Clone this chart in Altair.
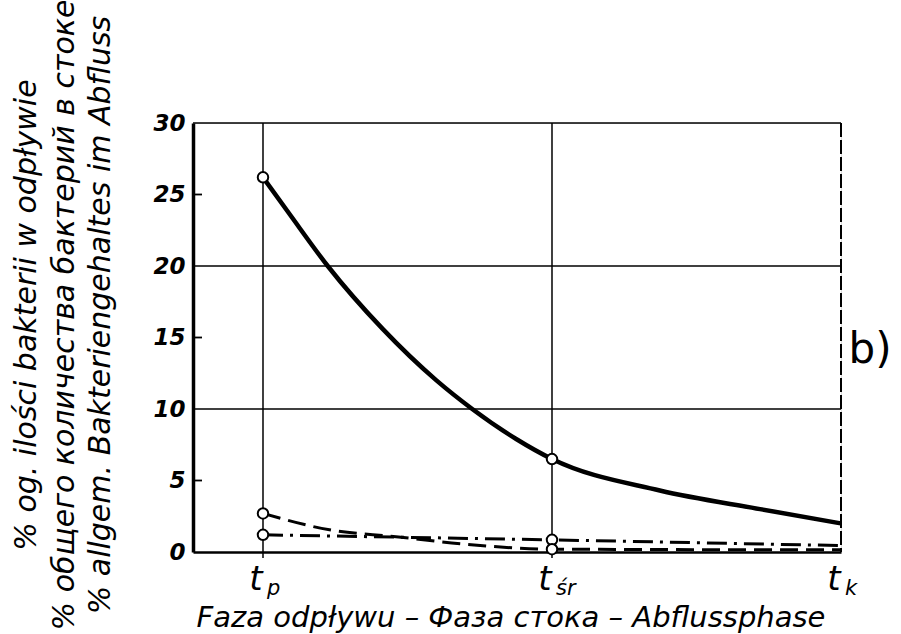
import altair as alt
import pandas as pd

# ---- data ----
phase_pos = [0, 1, 2]
phase_main = ["t", "t", "t"]
phase_sub = ["p", "śr", "k"]

solid_x = [0, 0.093, 0.224, 0.414, 0.6, 0.724, 0.876, 1, 1.373, 1.72, 2]
solid_y = [26.2, 23.6, 20.0, 15.6, 12.0, 10.0, 7.9, 6.5, 4.3, 3.0, 2.0]

dashed_x = [0, 0.23, 0.46, 0.69, 1, 2]
dashed_y = [2.7, 1.55, 1.07, 0.56, 0.2, 0.15]

dashdot_x = [0, 1, 2]
dashdot_y = [1.2, 0.85, 0.45]

circle_x = [0, 0, 0, 1, 1, 1]
circle_y = [26.2, 2.7, 1.2, 6.5, 0.85, 0.2]

y_ticks = [0, 5, 10, 15, 20, 25, 30]
grid_y = [10, 20, 30]
minor_y = [5, 15, 25]
grid_x = [0, 1]
edge_x = [2]

y_title = ["% og. ilości bakterii w odpływie",
           "% общего количества бактерий в стоке",
           "% allgem. Bakteriengehaltes im Abfluss"]
x_title = "Faza odpływu – Фаза стока – Abflussphase"

FONT = "DejaVu Sans, sans-serif"
W, H = 648, 429

xs = alt.Scale(domain=[-0.2422, 2], nice=False, zero=False)
ys = alt.Scale(domain=[0, 30], nice=False, zero=False)

solid_df = pd.DataFrame({"x": solid_x, "y": solid_y})
dashed_df = pd.DataFrame({"x": dashed_x, "y": dashed_y})
dashdot_df = pd.DataFrame({"x": dashdot_x, "y": dashdot_y})
circle_df = pd.DataFrame({"x": circle_x, "y": circle_y})
phase_df = pd.DataFrame({"x": phase_pos, "t": phase_main, "s": phase_sub})

base_axes = alt.Chart(pd.DataFrame({"x": [0], "y": [0]})).mark_point(opacity=0).encode(
    x=alt.X("x:Q", scale=xs,
            axis=alt.Axis(labels=False, ticks=False, grid=False, title=None,
                          domainColor="black", domainWidth=2.5)),
    y=alt.Y("y:Q", scale=ys,
            axis=alt.Axis(values=y_ticks, ticks=False, grid=False, title=None,
                          domainColor="black", domainWidth=3.5,
                          labelFont=FONT, labelFontSize=23, labelFontStyle="italic",
                          labelFontWeight="bold", labelColor="black", labelPadding=8)),
)

hgrid = alt.Chart(pd.DataFrame({"y": grid_y})).mark_rule(color="black", strokeWidth=1.5).encode(
    y=alt.Y("y:Q", scale=ys))
minor = alt.Chart(pd.DataFrame({"y": minor_y})).mark_rule(color="black", strokeWidth=1.8).encode(
    y=alt.Y("y:Q", scale=ys), x=alt.value(0), x2=alt.value(9))
vgrid = alt.Chart(pd.DataFrame({"x": grid_x})).mark_rule(color="black", strokeWidth=1.5).encode(
    x=alt.X("x:Q", scale=xs), y=alt.value(0), y2=alt.value(H + 6))
vedge = alt.Chart(pd.DataFrame({"x": edge_x})).mark_rule(
    color="black", strokeWidth=2, strokeDash=[14, 3]).encode(x=alt.X("x:Q", scale=xs))

solid = alt.Chart(solid_df).mark_line(color="black", strokeWidth=4.5, interpolate="monotone").encode(
    x=alt.X("x:Q", scale=xs), y=alt.Y("y:Q", scale=ys))
dashed = alt.Chart(dashed_df).mark_line(color="black", strokeWidth=3, strokeDash=[18, 8],
                                        interpolate="monotone").encode(
    x=alt.X("x:Q", scale=xs), y=alt.Y("y:Q", scale=ys))
dashdot = alt.Chart(dashdot_df).mark_line(color="black", strokeWidth=3,
                                          strokeDash=[20, 7, 3, 7]).encode(
    x=alt.X("x:Q", scale=xs), y=alt.Y("y:Q", scale=ys))
circles = alt.Chart(circle_df).mark_point(shape="circle", filled=True, fill="white",
                                          stroke="black", strokeWidth=2, size=110,
                                          opacity=1).encode(
    x=alt.X("x:Q", scale=xs), y=alt.Y("y:Q", scale=ys))

t_main = alt.Chart(phase_df).mark_text(font=FONT, fontSize=34, fontStyle="italic",
                                       align="center", baseline="alphabetic", dx=-7,
                                       color="black").encode(
    x=alt.X("x:Q", scale=xs), y=alt.value(H + 38), text="t:N")
t_sub = alt.Chart(phase_df).mark_text(font=FONT, fontSize=21, fontStyle="italic",
                                      align="left", baseline="alphabetic", dx=4,
                                      color="black").encode(
    x=alt.X("x:Q", scale=xs), y=alt.value(H + 43), text="s:N")

xt = alt.Chart(pd.DataFrame({"t": [x_title]})).mark_text(
    font=FONT, fontSize=29, fontStyle="italic", align="center", baseline="alphabetic",
    color="black").encode(x=alt.value(318), y=alt.value(H + 75), text="t:N")

yt_layers = []
for line, xpos in zip(y_title, [-166, -128, -92]):
    yt_layers.append(alt.Chart(pd.DataFrame({"t": [line]})).mark_text(
        font=FONT, fontSize=30, fontStyle="italic", align="center", baseline="middle",
        angle=270, color="black").encode(x=alt.value(xpos), y=alt.value(192), text="t:N"))

blabel = alt.Chart(pd.DataFrame({"t": ["b)"]})).mark_text(
    font=FONT, fontSize=42, align="center", baseline="alphabetic", color="black").encode(
    x=alt.value(677), y=alt.value(240), text="t:N")

chart = alt.layer(base_axes, hgrid, minor, vgrid, vedge, dashed, dashdot, solid, circles,
                  t_main, t_sub, xt, *yt_layers, blabel).properties(
    width=W, height=H, autosize="none",
    padding={"left": 193, "top": 123, "right": 60, "bottom": 82},
).configure_view(stroke=None).configure(background="white")

chart.save("out.html", embed_options={"renderer": "svg", "actions": False})
